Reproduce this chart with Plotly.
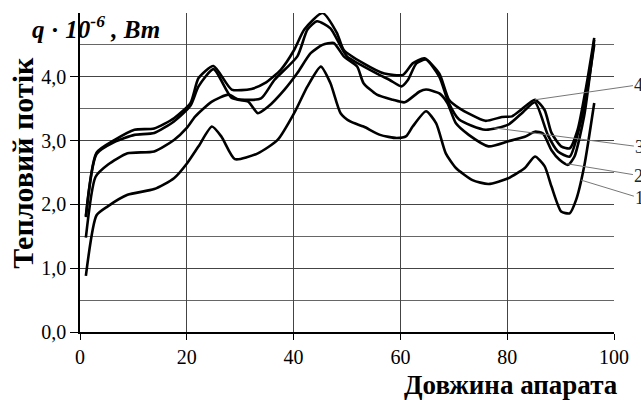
import numpy as np
import plotly.graph_objects as go

# Curve 4 (top)
x4 = [1.1, 3.1, 6.5, 10.2, 13.9, 17.6, 20.7, 22.2, 25.0, 28.4, 32.1, 34.6, 37.6, 40.1, 42.0, 45.4, 48.1, 49.4,
      53.1, 57.0, 60.5, 62.3, 64.5, 67.3, 69.1, 71.0, 75.9, 79.0, 80.9, 82.7, 85.2, 87.0, 88.3, 90.1, 91.7, 93.2, 94.8, 96.3]
y4 = [1.82, 2.81, 3.01, 3.17, 3.19, 3.35, 3.59, 3.98, 4.17, 3.80, 3.81, 3.90, 4.11, 4.42, 4.74, 5.00, 4.69, 4.42,
      4.21, 4.05, 4.03, 4.21, 4.29, 4.05, 3.64, 3.51, 3.31, 3.37, 3.38, 3.49, 3.64, 3.48, 3.12, 2.91, 2.88, 3.17, 3.85, 4.61]

# Curve 3
x3 = [1.1, 3.1, 6.5, 10.2, 13.9, 17.6, 20.7, 22.2, 25.0, 28.4, 30.9, 33.9, 36.4, 40.7, 42.6, 44.4, 46.9, 48.8, 50.0,
      55.6, 58.0, 60.2, 61.4, 63.0, 64.8, 67.3, 69.0, 71.0, 75.9, 80.2, 83.0, 85.2, 87.6, 89.5, 91.7, 93.5, 95.0, 96.3]
y3 = [1.80, 2.79, 2.98, 3.09, 3.12, 3.30, 3.55, 3.85, 4.12, 3.67, 3.64, 3.66, 3.95, 4.32, 4.74, 4.87, 4.76, 4.48, 4.32,
      4.05, 3.95, 3.85, 3.95, 4.21, 4.27, 4.00, 3.60, 3.33, 3.17, 3.25, 3.45, 3.60, 3.09, 2.83, 2.75, 3.20, 3.80, 4.50]

# Curve 2
x2 = [1.1, 2.9, 5.2, 8.9, 13.9, 17.6, 20.0, 21.6, 24.7, 27.8, 29.6, 31.5, 33.3, 35.2, 38.3, 40.7, 43.2, 45.4, 47.5,
      49.4, 51.9, 53.1, 55.6, 58.6, 60.8, 63.6, 64.8, 67.3, 68.8, 70.4, 72.8, 76.5, 80.2, 83.3, 85.2, 86.7, 88.3, 89.8,
      91.4, 92.6, 94.4, 96.3]
y2 = [1.48, 2.43, 2.62, 2.80, 2.83, 3.01, 3.20, 3.38, 3.61, 3.72, 3.64, 3.61, 3.43, 3.53, 3.80, 4.06, 4.37, 4.50, 4.53,
      4.32, 4.16, 3.90, 3.72, 3.64, 3.60, 3.77, 3.80, 3.74, 3.59, 3.27, 3.09, 2.91, 2.99, 3.06, 3.14, 3.11, 2.85, 2.70,
      2.62, 2.75, 3.38, 4.58]

# Curve 1 (bottom)
x1 = [1.1, 3.1, 5.2, 8.9, 13.9, 17.6, 20.1, 22.2, 24.7, 26.5, 29.0, 33.3, 37.0, 40.1, 42.6, 45.1, 46.9, 48.8, 50.6,
      53.1, 56.2, 59.3, 61.1, 62.3, 64.8, 66.7, 68.5, 70.4, 73.5, 76.5, 80.2, 83.3, 85.2, 87.0, 88.3, 90.1, 91.7, 92.9,
      94.4, 96.3]
y1 = [0.88, 1.83, 1.97, 2.15, 2.24, 2.41, 2.65, 2.91, 3.22, 3.06, 2.71, 2.80, 3.01, 3.43, 3.85, 4.16, 3.90, 3.43, 3.30,
      3.22, 3.09, 3.04, 3.07, 3.22, 3.46, 3.27, 2.80, 2.57, 2.38, 2.32, 2.41, 2.57, 2.75, 2.60, 2.28, 1.89, 1.86, 2.07,
      2.59, 3.59]

curve_labels = ["4", "3", "2", "1"]
label_at_x = [85.2, 77.5, 91.0, 93.8]
y_ticks = [0, 1, 2, 3, 4]
x_ticks = [0, 20, 40, 60, 80, 100]

series = [(x4, y4), (x3, y3), (x2, y2), (x1, y1)]

fig = go.Figure()
for xs, ys in series:
    fig.add_trace(go.Scatter(x=xs, y=ys, mode="lines",
                             line=dict(color="black", width=2.6, shape="spline", smoothing=0.6),
                             showlegend=False, hoverinfo="skip"))

offsets = [(104, -15), (146, 19), (73, 12), (59, 18)]
for (xs, ys), lab, lx, (ax, ay) in zip(series, curve_labels, label_at_x, offsets):
    ly = float(np.interp(lx, xs, ys))
    fig.add_annotation(x=lx, y=ly, xref="x", yref="y", text=lab, showarrow=True,
                       arrowhead=0, arrowwidth=1, arrowcolor="#777", ax=ax, ay=ay,
                       font=dict(family="Liberation Serif", size=18, color="#222"))

serif = "Liberation Serif"
fig.add_annotation(x=-0.093, y=0.955, xref="paper", yref="paper", xanchor="left", yanchor="middle",
                   text="<b><i>q</i> · <i>10</i><sup><i>-6</i></sup><i> , Вт</i></b>", showarrow=False,
                   font=dict(family=serif, size=25, color="black"))
fig.add_annotation(x=-0.107, y=0.53, xref="paper", yref="paper", xanchor="center", yanchor="middle",
                   text="<b>Тепловий потік</b>", textangle=-90, showarrow=False,
                   font=dict(family=serif, size=30, color="black"))
fig.add_annotation(x=1.012, y=-0.112, xref="paper", yref="paper", xanchor="right", yanchor="top",
                   text="<b>Довжина апарата</b>", showarrow=False,
                   font=dict(family=serif, size=27, color="black"))

fig.update_layout(
    width=641, height=400,
    margin=dict(l=80, r=21, t=13, b=68),
    paper_bgcolor="white", plot_bgcolor="white",
    separators=", ",
    font=dict(family=serif, size=20, color="black"),
)
fig.update_xaxes(range=[0, 100], tickvals=x_ticks, showgrid=True, gridcolor="#444", gridwidth=1,
                 showline=True, linecolor="black", linewidth=1.5, ticks="outside", ticklen=6,
                 tickcolor="black", zeroline=False, mirror=False)
fig.update_yaxes(range=[0, 5], tickvals=y_ticks, tickformat=".1f", showgrid=True, gridcolor="#444", gridwidth=1,
                 minor=dict(dtick=0.5, showgrid=True, gridcolor="#666", gridwidth=1),
                 showline=True, linecolor="black", linewidth=1.5, ticks="outside", ticklen=8,
                 tickcolor="black", zeroline=False)

fig.write_html("out.html")
